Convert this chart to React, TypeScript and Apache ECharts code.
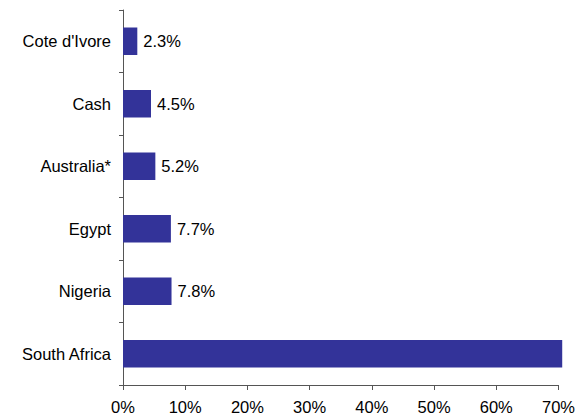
import React, { useEffect, useRef } from "react";
import * as echarts from "echarts";

const categories = ["South Africa", "Nigeria", "Egypt", "Australia*", "Cash", "Cote d'Ivore"];
const values = [70.6, 7.8, 7.7, 5.2, 4.5, 2.3];
const showLabel = [false, true, true, true, true, true];

const FONT = "Liberation Sans, Arial, sans-serif";

export default function App() {
  const ref = useRef<HTMLDivElement>(null);
  useEffect(() => {
    const chart = echarts.init(ref.current!, null, { renderer: "svg" });
    chart.setOption({
      animation: false,
      grid: { left: 123, right: 16, top: 10, bottom: 33 },
      xAxis: {
        type: "value",
        min: 0,
        max: 70,
        interval: 10,
        splitLine: { show: false },
        axisLine: { show: true, lineStyle: { color: "#555", width: 1 } },
        axisTick: { show: true, length: 5, lineStyle: { color: "#555" } },
        axisLabel: {
          formatter: "{value}%",
          color: "#000",
          fontFamily: FONT,
          fontSize: 16.5,
          margin: 13,
        },
      },
      yAxis: {
        type: "category",
        data: categories,
        axisLine: { show: true, lineStyle: { color: "#555", width: 1 } },
        axisTick: { show: true, length: 4, lineStyle: { color: "#555" } },
        axisLabel: {
          color: "#000",
          fontFamily: FONT,
          fontSize: 16.5,
          margin: 12,
        },
      },
      series: [
        {
          type: "bar",
          clip: false,
          barWidth: "44%",
          itemStyle: { color: "#333399" },
          data: values.map((v, i) => ({
            value: v,
            label: {
              show: showLabel[i],
              position: "right",
              distance: 6,
              formatter: (p: any) => p.value.toFixed(1) + "%",
              color: "#000",
              fontFamily: FONT,
              fontSize: 16.5,
            },
          })),
        },
      ],
    });
    return () => chart.dispose();
  }, []);
  return <div ref={ref} style={{ width: 578, height: 418, position: "absolute", left: 0, top: 0 }} />;
}
